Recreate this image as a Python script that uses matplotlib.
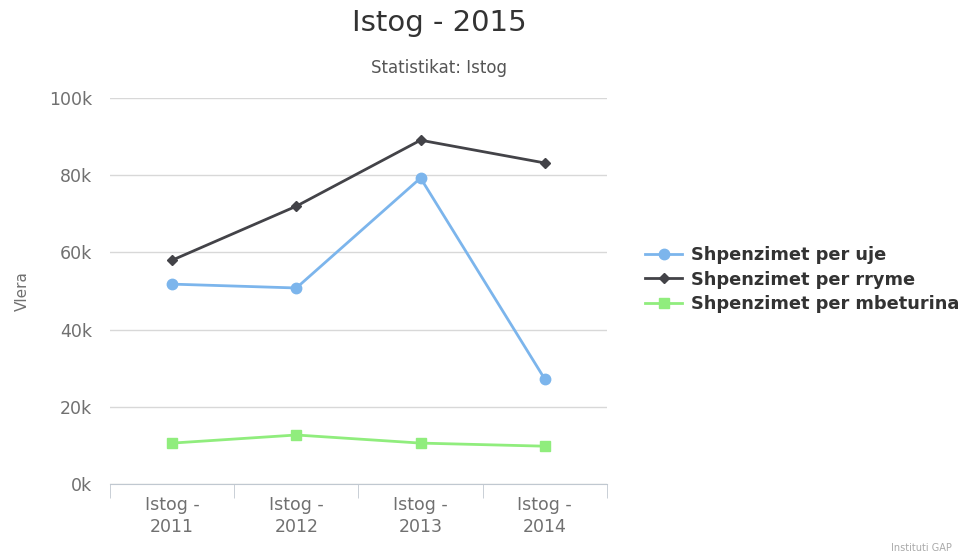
import matplotlib
matplotlib.use("Agg")
import matplotlib.pyplot as plt

plt.rcParams['font.family'] = ['DejaVu Sans']

# data
categories = ['Istog -\n2011', 'Istog -\n2012', 'Istog -\n2013', 'Istog -\n2014']
uje = [51800, 50800, 79300, 27200]
rryme = [58000, 72000, 89100, 83200]
mbeturina = [10600, 12700, 10600, 9800]
y_ticks = [0, 20000, 40000, 60000, 80000, 100000]
y_labels = ['0k', '20k', '40k', '60k', '80k', '100k']

fig = plt.figure(figsize=(9.61, 5.56), dpi=100)
ax = fig.add_axes([0.1145, 0.1295, 0.517, 0.694])

x = range(len(categories))
ax.plot(x, uje, '-o', color='#7cb5ec', lw=2, ms=7.5, label='Shpenzimet per uje')
ax.plot(x, rryme, '-D', color='#434348', lw=2, ms=5, label='Shpenzimet per rryme')
ax.plot(x, mbeturina, '-s', color='#90ed7d', lw=2, ms=7, label='Shpenzimet per mbeturina')

ax.set_xlim(-0.5, 3.5)
ax.set_ylim(0, 100000)
ax.set_yticks(y_ticks)
ax.set_yticklabels(y_labels)
ax.set_xticks(list(x))
ax.set_xticklabels(categories, linespacing=1.25)
ax.set_xticks([-0.5, 0.5, 1.5, 2.5, 3.5], minor=True)

ax.grid(axis='y', color='#d8d8d8', lw=1)
ax.set_axisbelow(True)
for s in ['top', 'right', 'left']:
    ax.spines[s].set_visible(False)
ax.spines['bottom'].set_color('#c0c8d0')

ax.tick_params(axis='y', length=0, pad=13, labelsize=12.5, labelcolor='#707070')
ax.tick_params(axis='x', which='major', length=0, pad=9, labelsize=12.5, labelcolor='#707070')
ax.tick_params(axis='x', which='minor', length=10, color='#c0c8d0')

ax.set_ylabel('Vlera', color='#707070', fontsize=11, labelpad=14)

fig.text(0.457, 0.958, 'Istog - 2015', ha='center', va='center', fontsize=21, color='#333333')
fig.text(0.457, 0.878, 'Statistikat: Istog', ha='center', va='center', fontsize=12, color='#555555')

ax.legend(loc='center left', bbox_to_anchor=(0.662, 0.497), bbox_transform=fig.transFigure,
          frameon=False, prop={'weight': 'bold', 'size': 12.8}, labelcolor='#333333',
          handlelength=2.1, handletextpad=0.5, labelspacing=0.38, borderpad=0)

fig.text(0.99, 0.014, 'Instituti GAP', ha='right', va='center', fontsize=7, color='#aaaaaa')

fig.savefig('out.png', dpi=100)
